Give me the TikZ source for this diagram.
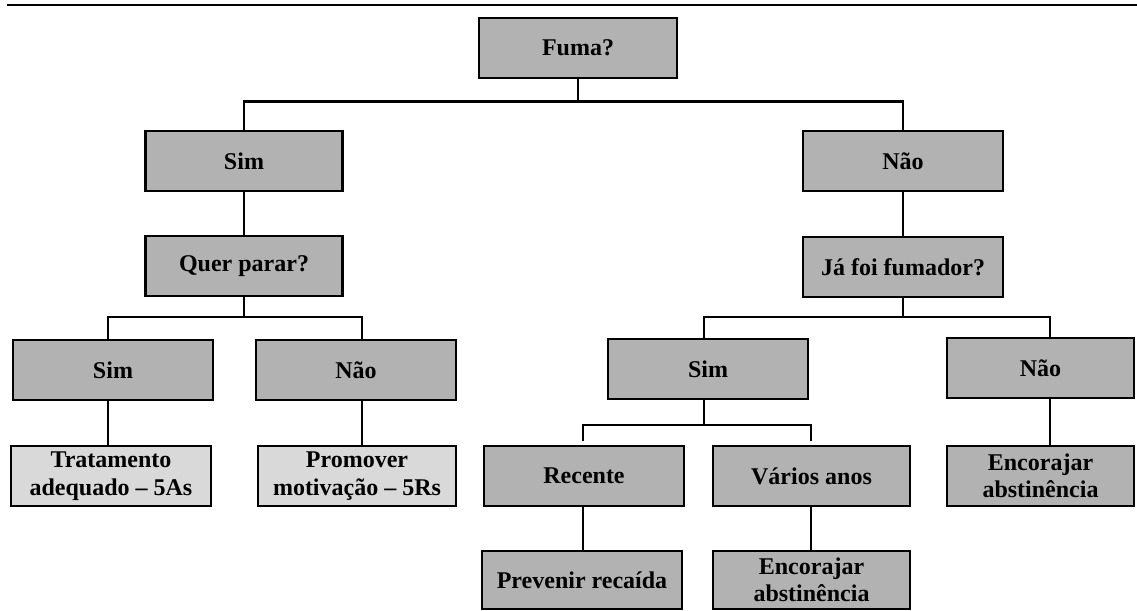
\documentclass[tikz,border=0pt]{standalone}
\usepackage{fontspec}
\setmainfont{Liberation Serif}
\usepackage{tikz}

\begin{document}
\begin{tikzpicture}[
            x=1pt,y=-1pt,
            box/.style={draw,rectangle,line width=2.6pt,fill=black!30,minimum width=200pt,minimum height=60pt,inner sep=0pt,align=center,font=\fontsize{24}{27.5}\selectfont\bfseries},
            lightbox/.style={box,fill=black!15},
            link/.style={draw,line width=2.4pt}
          ]
          \useasboundingbox (0,0) rectangle (1137,610);
          \draw[line width=1.8pt] (7,5) -- (1137,5);

          %first question
          \node[box,minimum width=198pt] (fuma) at (578,48) {Fuma?};
          \node[box,minimum width=197pt] (sim) at (244,161) {Sim};
          \node[box] (nao) at (903,161) {Não};

          %left branch
          \node[box,minimum width=197pt] (quer) at (244,266) {Quer parar?};
          \node[box] (simA) at (113,370) {Sim};
          \node[box] (naoA) at (356,370) {Não};
          \node[lightbox] (trat) at (111,476) {Tratamento\\adequado – 5As};
          \node[lightbox,minimum width=198pt] (prom) at (357,476) {Promover\\motivação – 5Rs};

          %right branch
          \node[box] (jafoi) at (903,267) {Já foi fumador?};
          \node[box] (simB) at (708,369) {Sim};
          \node[box,minimum width=187pt] (naoB) at (1040.5,368) {Não};
          \node[box] (recente) at (584,476) {Recente};
          \node[box,minimum width=197pt] (varios) at (811.5,476) {Vários anos};
          \node[box,minimum width=187pt] (enc2) at (1040.5,476) {Encorajar\\abstinência};
          \node[box,minimum height=58pt] (prev) at (582,580) {Prevenir recaída};
          \node[box,minimum width=197pt,minimum height=58pt] (enc1) at (811.5,580) {Encorajar\\abstinência};

          %branch points
          \coordinate (qa) at (108,317);
          \coordinate (qb) at (362,317);
          \coordinate (ja) at (704,317);
          \coordinate (jb) at (1050,317);
          \coordinate (sa) at (583,425);
          \coordinate (sb) at (811,425);

          \path[link]
          (fuma.south) -- ++(0,22)
          (sim.north) |- ([yshift=-22pt]fuma.south) -| (nao.north)
          (sim.south) -- (quer.north)
          (quer.south) -- (quer.south |- qa)
          (simA.north -| qa) -- (qa) -- (qb) -- (naoA.north -| qb)
          (simA.south -| qa) -- (trat.north -| qa)
          (naoA.south -| qb) -- (prom.north -| qb)
          (nao.south) -- (jafoi.north)
          (jafoi.south) -- (jafoi.south |- ja)
          (simB.north -| ja) -- (ja) -- (jb) -- (naoB.north -| jb)
          (naoB.south -| jb) -- (enc2.north -| jb)
          (simB.south -| ja) -- (ja |- sa)
          ([yshift=4pt]recente.north -| sa) -- (sa) -- (sb) -- ([yshift=4pt]varios.north -| sb)
          (recente.south -| sa) -- (prev.north -| sa)
          (varios.south -| sb) -- (enc1.north -| sb)
          ;

      \end{tikzpicture}
\end{document}
